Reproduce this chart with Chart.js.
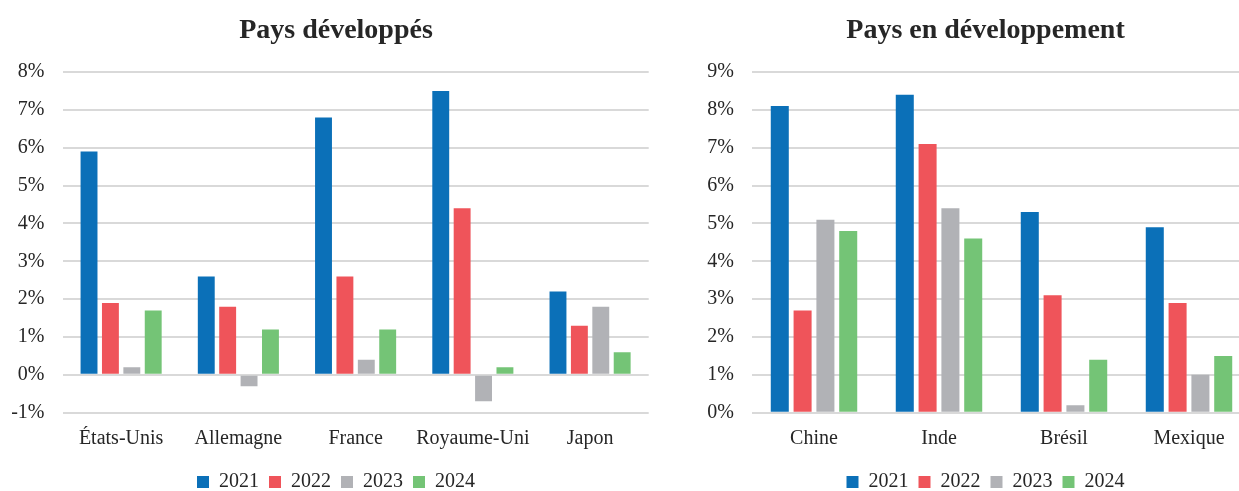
<!DOCTYPE html>
<html>
<head>
<meta charset="utf-8">
<script src="https://cdn.jsdelivr.net/npm/chart.js@4/dist/chart.umd.min.js"></script>
<style>
html,body{margin:0;padding:0;background:#fff;overflow:hidden;width:1239px;height:491px;}
canvas{position:absolute;top:0;}
#c1{left:0;}
#c2{left:660px;}
</style>
</head>
<body>
<canvas id="c1" width="672" height="502"></canvas>
<canvas id="c2" width="651" height="502"></canvas>
<script>
// ---- Data ----
const years = ['2021', '2022', '2023', '2024'];

const devCategories = ['États-Unis', 'Allemagne', 'France', 'Royaume-Uni', 'Japon'];
const dev2021 = [5.9, 2.6, 6.8, 7.5, 2.2];
const dev2022 = [1.9, 1.8, 2.6, 4.4, 1.3];
const dev2023 = [0.2, -0.3, 0.4, -0.7, 1.8];
const dev2024 = [1.7, 1.2, 1.2, 0.2, 0.6];

const emgCategories = ['Chine', 'Inde', 'Brésil', 'Mexique'];
const emg2021 = [8.1, 8.4, 5.3, 4.9];
const emg2022 = [2.7, 7.1, 3.1, 2.9];
const emg2023 = [5.1, 5.4, 0.2, 1.0];
const emg2024 = [4.8, 4.6, 1.4, 1.5];

const devTitle = 'Pays développés';
const emgTitle = 'Pays en développement';

// ---- Styles ----
const colors = ['#0b70b8', '#ef545a', '#b1b2b6', '#74c476'];
Chart.defaults.font.family = "'Liberation Serif', 'Times New Roman', serif";
Chart.defaults.font.size = 20;
Chart.defaults.color = '#262626';

function makeChart(id, title, cats, series, yMin, yMax, yWidth, labelPad, rightWidth) {
  return new Chart(document.getElementById(id), {
    type: 'bar',
    data: {
      labels: cats,
      datasets: series.map((d, i) => ({
        label: years[i],
        data: d,
        backgroundColor: colors[i],
        borderWidth: 0,
        categoryPercentage: 0.73,
        barPercentage: 0.79
      }))
    },
    options: {
      responsive: false,
      devicePixelRatio: 1,
      animation: false,
      layout: { padding: 0 },
      plugins: {
        title: {
          display: true,
          text: title,
          font: { size: 28, weight: 'bold' },
          color: '#262626',
          padding: { top: 13.5, bottom: 24.9 }
        },
        legend: {
          position: 'bottom',
          labels: { boxWidth: 12, boxHeight: 12, padding: 10, font: { size: 20 }, color: '#262626' }
        },
        tooltip: { enabled: false }
      },
      scales: {
        x: {
          grid: { display: false, drawTicks: false },
          border: { display: false },
          ticks: { padding: 14, maxRotation: 0, minRotation: 0, autoSkip: false,
                   font: { size: 20 }, color: '#262626' },
          afterFit: (s) => { s.height = 49.3; }
        },
        y: {
          min: yMin,
          max: yMax,
          grid: { color: '#d9d9d9', lineWidth: 2, drawTicks: false },
          border: { display: false },
          ticks: { stepSize: 1, padding: labelPad, font: { size: 20 }, color: '#262626',
                   callback: (v) => v + '%' },
          afterFit: (s) => { s.width = yWidth; }
        },
        yRight: {
          position: 'right',
          min: yMin,
          max: yMax,
          grid: { display: false, drawTicks: false },
          border: { display: false },
          ticks: { display: false },
          afterFit: (s) => { s.width = rightWidth; }
        }
      }
    }
  });
}

makeChart('c1', devTitle, devCategories, [dev2021, dev2022, dev2023, dev2024], -1, 8, 62.5, 18, 23.3);
makeChart('c2', emgTitle, emgCategories, [emg2021, emg2022, emg2023, emg2024], 0, 9, 91.5, 17.5, 59.5);
</script>
</body>
</html>
